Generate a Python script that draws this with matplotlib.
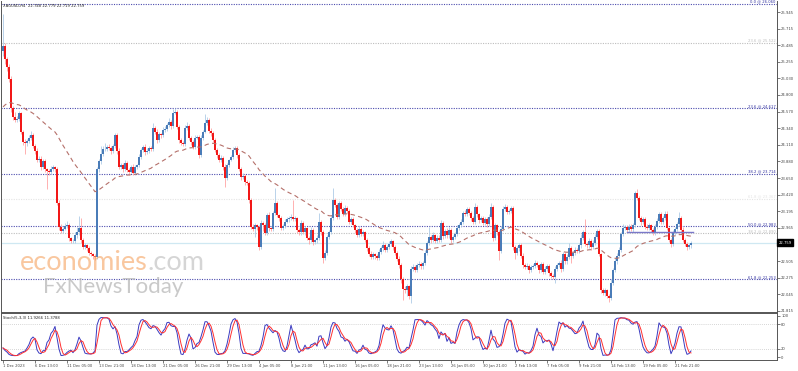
import numpy as np
import pandas as pd
import matplotlib
matplotlib.use("Agg")
import matplotlib.pyplot as plt
from matplotlib.transforms import blended_transform_factory

# XAGUSD H4 closes (bar 0 = 1 Dec 2023 21:00)
closes = [
    25.47, 25.30, 25.18, 25.02, 24.62, 24.50, 24.46, 24.47, 24.55, 24.29,
    24.15, 24.13, 24.16, 24.20, 24.25, 24.10, 24.02, 23.90, 23.92, 23.80,
    23.88, 23.77, 23.75, 23.73, 23.78, 23.80, 23.78, 23.31, 22.98, 22.92,
    22.95, 22.99, 23.00, 22.82, 22.78, 22.78, 22.86, 22.90, 22.96, 22.80,
    22.70, 22.72, 22.68, 22.62, 22.60, 22.58, 22.56, 23.77, 23.88, 23.98,
    24.05, 24.05, 24.08, 24.07, 24.03, 24.10, 24.25, 24.02, 23.80, 23.83,
    23.78, 23.86, 23.76, 23.74, 23.80, 23.72, 23.80, 23.83, 23.94, 24.04,
    24.08, 24.01, 24.03, 24.07, 24.05, 24.34, 24.29, 24.18, 24.26, 24.24,
    24.32, 24.33, 24.38, 24.43, 24.37, 24.55, 24.56, 24.36, 24.18, 24.14,
    24.12, 24.34, 24.37, 24.21, 24.15, 24.08, 24.21, 24.22, 23.97, 24.21,
    24.29, 24.41, 24.45, 24.30, 24.27, 24.18, 24.04, 23.97, 23.90, 23.93,
    23.80, 23.65, 23.83, 23.90, 23.94, 24.04, 24.07, 23.97, 23.78, 23.67,
    23.68, 23.60, 23.58, 23.35, 22.98, 22.95, 23.00, 22.97, 22.70, 23.03,
    23.00, 22.89, 23.14, 22.96, 22.95, 23.17, 23.31, 23.14, 23.10, 22.96,
    22.99, 23.05, 23.08, 23.10, 23.12, 23.09, 23.10, 22.93, 22.90, 23.03,
    22.91, 22.96, 22.82, 22.80, 22.93, 22.77, 22.79, 22.83, 23.04, 22.90,
    22.55, 22.62, 22.84, 22.91, 23.10, 23.35, 23.28, 23.12, 23.30, 23.22,
    23.16, 23.24, 23.20, 23.05, 23.08, 23.00, 22.93, 22.87, 22.95, 22.88,
    22.90, 22.80, 22.68, 22.60, 22.56, 22.60, 22.57, 22.55, 22.63, 22.68,
    22.72, 22.66, 22.70, 22.74, 22.78, 22.70, 22.62, 22.54, 22.45, 22.25,
    22.12, 22.10, 22.16, 22.02, 22.40, 22.42, 22.38, 22.45, 22.46, 22.43,
    22.48, 22.62, 22.75, 22.84, 22.80, 22.86, 22.78, 22.83, 22.80, 23.03,
    22.85, 22.92, 22.86, 22.94, 22.80, 22.84, 22.88, 22.96, 23.00, 23.05,
    23.17, 23.16, 23.22, 23.17, 23.10, 23.05, 23.25, 23.15, 23.07, 23.10,
    23.03, 23.08, 23.02, 23.12, 23.25, 22.82, 23.00, 22.90, 22.65, 22.95,
    23.22, 23.25, 23.18, 23.20, 23.24, 22.70, 22.62, 22.68, 22.72, 22.58,
    22.45, 22.42, 22.44, 22.38, 22.42, 22.44, 22.48, 22.45, 22.38, 22.46,
    22.36, 22.40, 22.44, 22.34, 22.30, 22.28, 22.40, 22.45, 22.48, 22.40,
    22.60, 22.50, 22.56, 22.68, 22.58, 22.62, 22.66, 22.64, 22.72, 22.82,
    22.90, 22.74, 22.72, 22.78, 22.70, 22.76, 22.84, 22.92, 22.60, 22.10,
    22.06, 22.10, 22.02, 22.00, 22.20, 22.38, 22.50, 22.58, 22.66, 22.88,
    22.96, 22.97, 22.94, 22.98, 22.95, 23.00, 23.44, 23.38, 23.10, 23.04,
    23.08, 22.98, 22.96, 23.00, 22.93, 22.90, 22.98, 23.06, 23.15, 23.04,
    23.10, 23.16, 22.96, 22.80, 22.74, 22.90, 22.95, 23.02, 23.10, 22.94,
    22.80, 22.74, 22.70, 22.72, 22.759,
]

# wick length above / below the body, in cents
upper_wick = [
    45, 4, 3, 5, 4, 3, 6, 4, 3, 2,  3, 4, 3, 4, 5, 3, 2, 4, 3, 3,
    4, 3, 2, 3, 4, 3, 2, 3, 4, 3,  3, 4, 6, 3, 2, 3, 4, 8, 17, 14,
    3, 4, 2, 3, 3, 2, 2, 3, 4, 12,  4, 8, 3, 4, 3, 2, 3, 2, 4, 3,
    3, 4, 2, 3, 3, 4, 3, 2, 4, 3,  3, 4, 3, 2, 3, 7, 3, 4, 3, 2,
    3, 4, 3, 5, 3, 6, 6, 3, 2, 3,  3, 4, 5, 3, 2, 3, 4, 3, 3, 4,
    3, 12, 5, 3, 4, 3, 2, 3, 3, 4,  3, 4, 3, 2, 3, 4, 3, 2, 3, 3,
    4, 3, 2, 3, 3, 4, 3, 2, 3, 4,  3, 3, 3, 4, 2, 3, 21, 3, 2, 3,
    3, 4, 3, 3, 4, 23, 3, 2, 3, 4,  3, 3, 2, 3, 4, 3, 2, 3, 13, 3,
    3, 4, 3, 3, 4, 17, 3, 2, 4, 3,  3, 4, 3, 2, 3, 3, 2, 3, 4, 3,
    3, 2, 3, 3, 4, 3, 2, 3, 4, 3,  6, 3, 3, 4, 3, 2, 3, 2, 3, 3,
    3, 4, 3, 2, 3, 4, 3, 3, 4, 3,  3, 4, 3, 13, 3, 4, 2, 3, 3, 4,
    3, 3, 4, 3, 2, 3, 3, 4, 3, 3,  3, 4, 3, 3, 2, 3, 5, 3, 2, 3,
    3, 4, 3, 3, 6, 3, 3, 2, 3, 4,  4, 4, 3, 2, 3, 3, 2, 3, 4, 3,
    3, 3, 4, 2, 3, 3, 4, 3, 2, 3,  3, 4, 3, 2, 3, 3, 4, 3, 3, 4,
    3, 3, 4, 8, 3, 3, 4, 3, 3, 6,  3, 18, 3, 4, 3, 3, 4, 3, 3, 2,
    3, 3, 2, 3, 6, 3, 5, 3, 4, 3,  5, 3, 3, 4, 3, 3, 3, 6, 3, 3,
    3, 4, 3, 3, 2, 3, 3, 4, 3, 3,  3, 3, 3, 2, 3, 4, 3, 3, 8, 3,
    3, 2, 3, 3, 2,
]
lower_wick = [
    6, 8, 5, 4, 6, 4, 3, 4, 3, 3,  4, 15, 3, 3, 2, 3, 4, 3, 3, 4,
    3, 3, 25, 3, 2, 3, 4, 3, 4, 3,  3, 2, 3, 4, 3, 3, 2, 3, 3, 4,
    3, 3, 4, 3, 3, 4, 4, 2, 3, 3,  3, 3, 2, 3, 4, 3, 3, 4, 3, 3,
    4, 3, 3, 4, 2, 3, 3, 3, 2, 3,  3, 4, 3, 3, 3, 2, 3, 4, 3, 3,
    2, 3, 3, 3, 4, 3, 2, 3, 4, 3,  3, 3, 2, 3, 4, 3, 3, 2, 4, 3,
    3, 2, 3, 3, 4, 3, 3, 4, 3, 3,  4, 12, 3, 3, 2, 3, 3, 4, 3, 4,
    3, 5, 3, 4, 3, 3, 11, 3, 4, 3,  8, 3, 3, 4, 3, 3, 3, 3, 4, 3,
    3, 3, 2, 3, 3, 3, 3, 4, 3, 3,  3, 4, 3, 6, 3, 4, 3, 3, 3, 3,
    7, 3, 3, 3, 3, 3, 3, 4, 3, 3,  3, 3, 3, 4, 3, 3, 4, 3, 3, 3,
    3, 3, 4, 3, 3, 3, 4, 3, 3, 3,  3, 3, 3, 3, 3, 4, 3, 4, 4, 5,
    16, 4, 8, 4, 9, 3, 3, 3, 3, 3,  3, 3, 3, 3, 4, 3, 3, 3, 3, 3,
    4, 3, 3, 3, 4, 3, 3, 3, 3, 3,  3, 3, 3, 3, 4, 3, 3, 3, 4, 3,
    3, 3, 4, 3, 3, 4, 3, 3, 13, 3,  3, 3, 3, 3, 3, 4, 8, 3, 3, 3,
    4, 3, 3, 4, 3, 3, 3, 3, 4, 3,  3, 3, 3, 4, 3, 3, 8, 3, 3, 4,
    3, 3, 3, 3, 10, 3, 3, 3, 3, 3,  3, 3, 3, 3, 4, 3, 3, 3, 3, 4,
    3, 4, 3, 6, 3, 3, 3, 3, 3, 3,  3, 3, 3, 3, 3, 4, 3, 3, 3, 4,
    3, 3, 3, 3, 3, 3, 3, 3, 3, 3,  3, 3, 3, 3, 4, 3, 3, 3, 3, 3,
    3, 3, 4, 3, 3,
]
first_open = 25.40
ma_span = 50
ma_start = 24.60      # level of the average just before the first visible bar

title = "XAGUSD,H4  22.748 22.779 22.719 22.759"
stoch_title = "Stoch(5,3,3) 11.9266 11.3788"
last_price = 22.759
trend_price = 22.90
trend_bars = [312, 345]

price_ticks = [25.945, 25.715, 25.485, 25.255, 25.030, 24.800, 24.570, 24.340,
               24.110, 23.880, 23.650, 23.420, 23.195, 22.965, 22.505, 22.275,
               22.045, 21.815]
fib_dark = [26.060, 24.617, 23.714, 22.983, 22.253]
fib_dark_text = ["0.0 @ 26.060", "23.6 @ 24.617", "38.2 @ 23.714",
                 "50.0 @ 22.983", "61.8 @ 22.253"]
fib_light = [25.522, 23.367, 22.890]
fib_light_text = ["23.6 @ 25.522", "61.8 @ 23.367", "38.2 @ 22.890"]

date_bars = list(range(0, 337, 16))
date_text = ["1 Dec 2023", "6 Dec 13:00", "11 Dec 05:00", "13 Dec 21:00",
             "18 Dec 13:00", "21 Dec 05:00", "26 Dec 21:00", "29 Dec 13:00",
             "4 Jan 05:00", "8 Jan 21:00", "11 Jan 13:00", "16 Jan 05:00",
             "18 Jan 21:00", "23 Jan 13:00", "26 Jan 05:00", "30 Jan 21:00",
             "2 Feb 13:00", "7 Feb 05:00", "9 Feb 21:00", "14 Feb 13:00",
             "19 Feb 05:00", "21 Feb 21:00"]

# ---- derived series ----
closes = np.array(closes)
opens = np.r_[first_open, closes[:-1]]
highs = np.maximum(opens, closes) + np.array(upper_wick) / 100
lows = np.minimum(opens, closes) - np.array(lower_wick) / 100
bars = np.arange(len(closes))

ma = pd.Series(np.r_[ma_start, closes]).ewm(span=ma_span, adjust=False).mean().to_numpy()[1:]

c, h, l = pd.Series(closes), pd.Series(highs), pd.Series(lows)
ll = l.rolling(5, min_periods=1).min()
hh = h.rolling(5, min_periods=1).max()
k = 100 * (c - ll).rolling(3, min_periods=1).sum() / (hh - ll).rolling(3, min_periods=1).sum()
d = k.rolling(3, min_periods=1).mean()

# ---- figure ----
W, H = 798, 371
fig = plt.figure(figsize=(W / 100, H / 100), dpi=100)
ax = fig.add_axes([1 / W, 1 - 312 / H, 776 / W, 311 / H])
ax2 = fig.add_axes([1 / W, 1 - 360 / H, 776 / W, 47 / H])

fs = 2.7
axis_col = "#444444"

# watermark (behind the candles)
t1 = fig.text(20 / W, 1 - 270 / H, "economies", fontsize=19.5, color="#f5a25f",
              family="Lato", alpha=0.6, zorder=0)
fig.canvas.draw()
bb = t1.get_window_extent()
fig.text(bb.x1 / W, 1 - 270 / H, ".com", fontsize=19.5, color="#c8c8c8",
         family="Lato", alpha=0.75, zorder=0)
fig.text(43 / W, 1 - 293 / H, "FxNewsToday", fontsize=16, color="#b8b8b8",
         family="Lato", alpha=0.75, zorder=0)
ax.patch.set_alpha(0)

trans = blended_transform_factory(ax.transAxes, ax.transData)
for lev, txt in zip(fib_dark, fib_dark_text):
    ax.axhline(lev, color="#4c4cae", lw=0.8, ls=(0, (1, 1.2)), zorder=1)
    ax.text(0.998, lev, txt, transform=trans, ha="right", va="bottom",
            fontsize=fs, color="#3030a0")
light_cols = ["#bdbdbd", "#e4e4e4", "#bdbdbd"]
for lev, txt, col in zip(fib_light, fib_light_text, light_cols):
    ax.axhline(lev, color=col, lw=0.8, ls=(0, (1, 1.2)), zorder=1)
    ax.text(0.998, lev, txt, transform=trans, ha="right", va="bottom",
            fontsize=fs, color=col)

ax.axhline(last_price, color="#cfe8f2", lw=0.9, zorder=1)

up = closes >= opens
body_lo = np.minimum(opens, closes)
body_h = np.maximum(np.abs(closes - opens), 0.006)
ax.vlines(bars[up], lows[up], highs[up], color="#aecbe6", lw=0.6, zorder=2)
ax.vlines(bars[~up], lows[~up], highs[~up], color="#ffa3a3", lw=0.6, zorder=2)
ax.bar(bars[up], body_h[up], bottom=body_lo[up], width=0.75, color="#4a7cb8", lw=0, zorder=3)
ax.bar(bars[~up], body_h[~up], bottom=body_lo[~up], width=0.75, color="#f21818", lw=0, zorder=3)

ax.plot(bars, ma, color="#b5706a", lw=0.8, ls=(0, (4, 3)), zorder=4)
ax.plot(trend_bars, [trend_price, trend_price], color="#7a78c8", lw=1.0, zorder=4)

ax.set_xlim(-1, 387)
ax.set_ylim(21.801, 26.097)
ax.yaxis.tick_right()
ax.set_yticks(price_ticks)
ax.set_yticklabels([f"{p:.3f}" for p in price_ticks])
ax.tick_params(axis="y", labelsize=fs, length=2, width=0.5, pad=1, colors=axis_col)
ax.set_xticks([])
ax.spines["top"].set_visible(False)
for s in ["left", "right", "bottom"]:
    ax.spines[s].set_linewidth(0.7)
    ax.spines[s].set_color("#555555")

ax.text(0.003, 0.985, title, transform=ax.transAxes, fontsize=fs, color="#222222",
        ha="left", va="center")
ax.text(1.002, last_price, "22.759", transform=trans, ha="left", va="center",
        fontsize=fs, color="white", clip_on=False,
        bbox=dict(boxstyle="square,pad=0.35", fc="black", ec="black"))

# stochastic panel
ax2.axhline(80, color="#c8c8c8", lw=0.6, ls=(0, (1, 1.5)))
ax2.axhline(20, color="#c8c8c8", lw=0.6, ls=(0, (1, 1.5)))
ax2.plot(bars, k, color="#3a3ac0", lw=0.7)
ax2.plot(bars, d, color="#ff3030", lw=0.7)
ax2.set_xlim(-1, 387)
ax2.set_ylim(-6.5, 106.5)
ax2.yaxis.tick_right()
ax2.set_yticks([0, 20, 80, 100])
ax2.tick_params(axis="y", labelsize=fs, length=2, width=0.5, pad=1, colors=axis_col)
ax2.set_xticks(date_bars)
ax2.set_xticklabels(date_text, ha="left")
ax2.tick_params(axis="x", labelsize=fs, length=2, width=0.5, pad=1, colors=axis_col)
for s in ["left", "right", "bottom", "top"]:
    ax2.spines[s].set_linewidth(0.7)
    ax2.spines[s].set_color("#555555")
ax2.text(0.003, 0.93, stoch_title, transform=ax2.transAxes, fontsize=fs, color="#222222",
         ha="left", va="top")

fig.savefig("out.png", dpi=100)
